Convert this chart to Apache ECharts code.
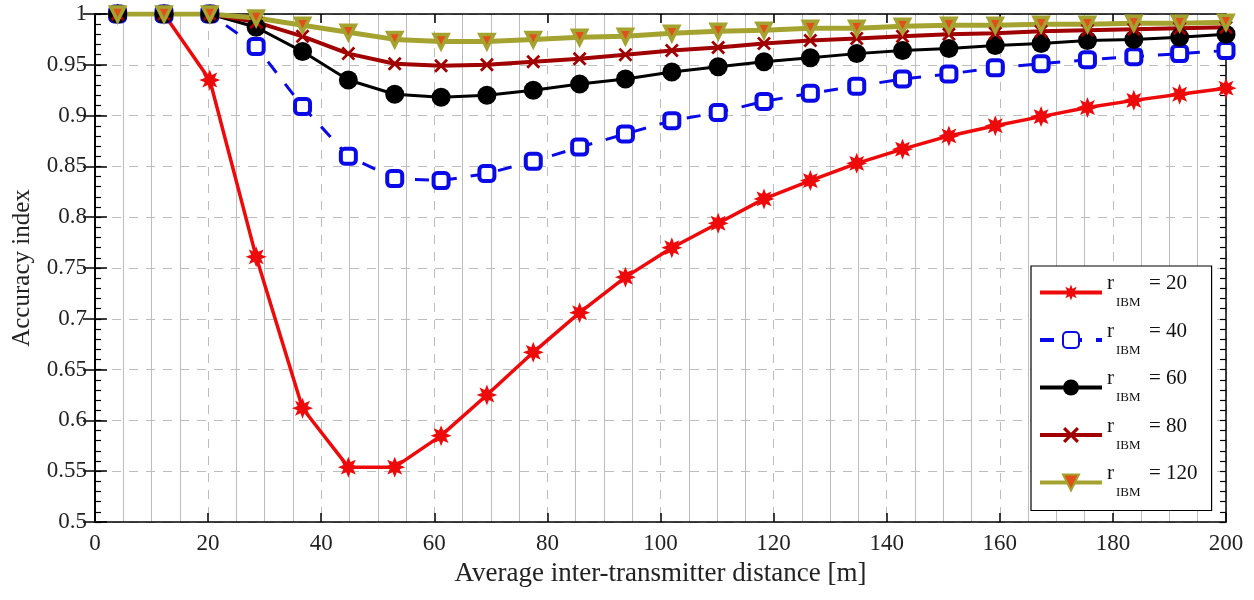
<!DOCTYPE html>
<html>
<head>
<meta charset="utf-8">
<script src="https://cdn.jsdelivr.net/npm/echarts@6/dist/echarts.min.js"></script>
<style>
  html, body { margin: 0; padding: 0; background: #fff; }
  #chart { width: 1254px; height: 600px; }
</style>
</head>
<body>
<div id="chart"></div>
<script>
// x positions of the samples (m)
var distance = [4, 12.2, 20.3, 28.5, 36.7, 44.8, 53, 61.2, 69.3, 77.5, 85.7, 93.8, 102,
                110.2, 118.3, 126.5, 134.7, 142.8, 151, 159.2, 167.3, 175.5, 183.7, 191.8, 200];

var acc20 = [1, 1, 0.935, 0.761, 0.612, 0.554, 0.554, 0.585, 0.625, 0.667, 0.706, 0.741, 0.770,
             0.794, 0.818, 0.836, 0.853, 0.867, 0.880, 0.890, 0.899, 0.908, 0.915, 0.921, 0.927];
var acc40 = [1, 1, 1, 0.968, 0.909, 0.860, 0.838, 0.836, 0.843, 0.855, 0.869, 0.882, 0.895,
             0.903, 0.914, 0.922, 0.929, 0.936, 0.941, 0.947, 0.951, 0.955, 0.958, 0.961, 0.964];
var acc60 = [1, 1, 1, 0.987, 0.963, 0.935, 0.921, 0.918, 0.920, 0.925, 0.931, 0.936, 0.943,
             0.948, 0.953, 0.957, 0.961, 0.964, 0.966, 0.969, 0.971, 0.974, 0.975, 0.977, 0.980];
var acc80 = [1, 1, 1, 0.992, 0.978, 0.961, 0.951, 0.949, 0.950, 0.953, 0.956, 0.960, 0.964,
             0.967, 0.971, 0.974, 0.976, 0.978, 0.980, 0.981, 0.983, 0.984, 0.985, 0.986, 0.987];
var acc120 = [1, 1, 1, 0.996, 0.989, 0.982, 0.975, 0.973, 0.973, 0.975, 0.977, 0.978, 0.981,
              0.983, 0.984, 0.986, 0.986, 0.988, 0.989, 0.989, 0.990, 0.990, 0.991, 0.991, 0.992];

var radii = ['20', '40', '60', '80', '120'];
var xTicks = [0, 20, 40, 60, 80, 100, 120, 140, 160, 180, 200];
var yTicks = [0.5, 0.55, 0.6, 0.65, 0.7, 0.75, 0.8, 0.85, 0.9, 0.95, 1];

var FONT = '"Liberation Serif", "Times New Roman", serif';

// marker shapes
var STAR = 'path://M100,50L74,60L85.4,85.4L60,74L50,100L40,74L14.6,85.4L26,60L0,50L26,40L14.6,14.6L40,26L50,0L60,26L85.4,14.6L74,40Z';
var CROSS = 'path://M0,14L14,0L50,36L86,0L100,14L64,50L100,86L86,100L50,64L14,100L0,86L36,50Z';

function pairs(ys) {
    return distance.map(function (x, i) { return [x, ys[i]]; });
}

var series = [
    {
        name: radii[0], type: 'line', data: pairs(acc20),
        symbol: STAR, symbolSize: 21,
        lineStyle: { color: '#ee0a0a', width: 3.5, type: 'solid' },
        itemStyle: { color: '#ee0a0a' }
    },
    {
        name: radii[1], type: 'line', data: pairs(acc40),
        symbol: 'roundRect', symbolSize: 15,
        lineStyle: { color: '#0a0ae6', width: 3, type: [14, 14] },
        itemStyle: { color: '#ffffff', borderColor: '#0a0ae6', borderWidth: 4 }
    },
    {
        name: radii[2], type: 'line', data: pairs(acc60),
        symbol: 'circle', symbolSize: 19,
        lineStyle: { color: '#000000', width: 3 },
        itemStyle: { color: '#000000' }
    },
    {
        name: radii[3], type: 'line', data: pairs(acc80),
        symbol: CROSS, symbolSize: 14,
        lineStyle: { color: '#a00000', width: 4 },
        itemStyle: { color: '#a00000' }
    },
    {
        name: radii[4], type: 'line', data: pairs(acc120),
        symbol: 'triangle', symbolRotate: 180, symbolSize: 14,
        lineStyle: { color: '#a5a330', width: 5 },
        itemStyle: { color: '#e0501a', borderColor: '#a5a330', borderWidth: 3.5 }
    }
];
series.forEach(function (s) {
    s.showSymbol = true;
    s.animation = false;
    s.emphasis = { disabled: true };
});

var gridLine = { show: true, lineStyle: { color: '#bdbdbd', width: 1, type: [9, 8] } };
var blackLine = { show: true, lineStyle: { color: '#000', width: 1.5 } };

// an extra axis on each side only to draw the small inward ticks (every 0.01)
function minorTickAxis(side) {
    return {
        type: 'value', min: 0.5, max: 1, interval: 0.01, position: side,
        axisLine: blackLine,
        axisTick: { show: true, inside: true, length: 6, lineStyle: { color: '#000', width: 1.2 } },
        axisLabel: { show: false },
        splitLine: { show: false }
    };
}

var option = {
    backgroundColor: '#ffffff',
    textStyle: { fontFamily: FONT },
    grid: { left: 95, right: 28, top: 14, bottom: 78 },
    legend: {
        orient: 'vertical',
        left: 1031, top: 266,
        width: 174,
        padding: [7, 14, 11, 7],
        itemGap: 11,
        itemWidth: 62, itemHeight: 20,
        borderColor: '#000', borderWidth: 1.2,
        backgroundColor: '#ffffff',
        lineStyle: { width: 4 },
        data: radii,
        formatter: function (name) {
            return '{r|r}{eq|= ' + name + '}\n{sub|IBM}';
        },
        textStyle: {
            fontFamily: FONT,
            rich: {
                r: { fontFamily: FONT, fontSize: 21, color: '#111', width: 42, lineHeight: 21 },
                eq: { fontFamily: FONT, fontSize: 21, color: '#111', lineHeight: 21 },
                sub: { fontFamily: FONT, fontSize: 13, color: '#111', padding: [0, 0, 0, 9], lineHeight: 18 }
            }
        }
    },
    xAxis: [
        {
            type: 'value', min: 0, max: 200, interval: 20,
            name: 'Average inter-transmitter distance [m]',
            nameLocation: 'middle', nameGap: 38,
            nameTextStyle: { fontFamily: FONT, fontSize: 27, color: '#222' },
            axisLine: blackLine,
            axisTick: { show: true, inside: true, length: 9, lineStyle: { color: '#000', width: 1.5 } },
            minorTick: { show: false, splitNumber: 4 },
            minorSplitLine: { show: true, lineStyle: { color: '#bdbdbd', width: 1 } },
            axisLabel: {
                margin: 10, fontFamily: FONT, fontSize: 23, color: '#222',
                customValues: xTicks
            },
            splitLine: gridLine
        },
        {
            type: 'value', min: 0, max: 200, interval: 20, position: 'top',
            axisLine: blackLine,
            axisTick: { show: true, inside: true, length: 9, lineStyle: { color: '#000', width: 1.5 } },
            axisLabel: { show: false },
            splitLine: { show: false }
        }
    ],
    yAxis: [
        {
            type: 'value', min: 0.5, max: 1, interval: 0.05,
            name: 'Accuracy index',
            nameLocation: 'middle', nameGap: 60,
            nameTextStyle: { fontFamily: FONT, fontSize: 25, color: '#222' },
            axisLine: blackLine,
            axisTick: { show: true, inside: true, length: 12, lineStyle: { color: '#000', width: 1.5 } },
            axisLabel: {
                margin: 8, fontFamily: FONT, fontSize: 23, color: '#222',
                customValues: yTicks,
                formatter: function (v) { return String(+v.toFixed(2)); }
            },
            splitLine: gridLine
        },
        {
            type: 'value', min: 0.5, max: 1, interval: 0.05, position: 'right',
            axisLine: blackLine,
            axisTick: { show: true, inside: true, length: 12, lineStyle: { color: '#000', width: 1.5 } },
            axisLabel: { show: false },
            splitLine: { show: false }
        },
        minorTickAxis('left'),
        minorTickAxis('right')
    ],
    series: series
};

var chart = echarts.init(document.getElementById('chart'));
chart.setOption(option);
</script>
</body>
</html>
